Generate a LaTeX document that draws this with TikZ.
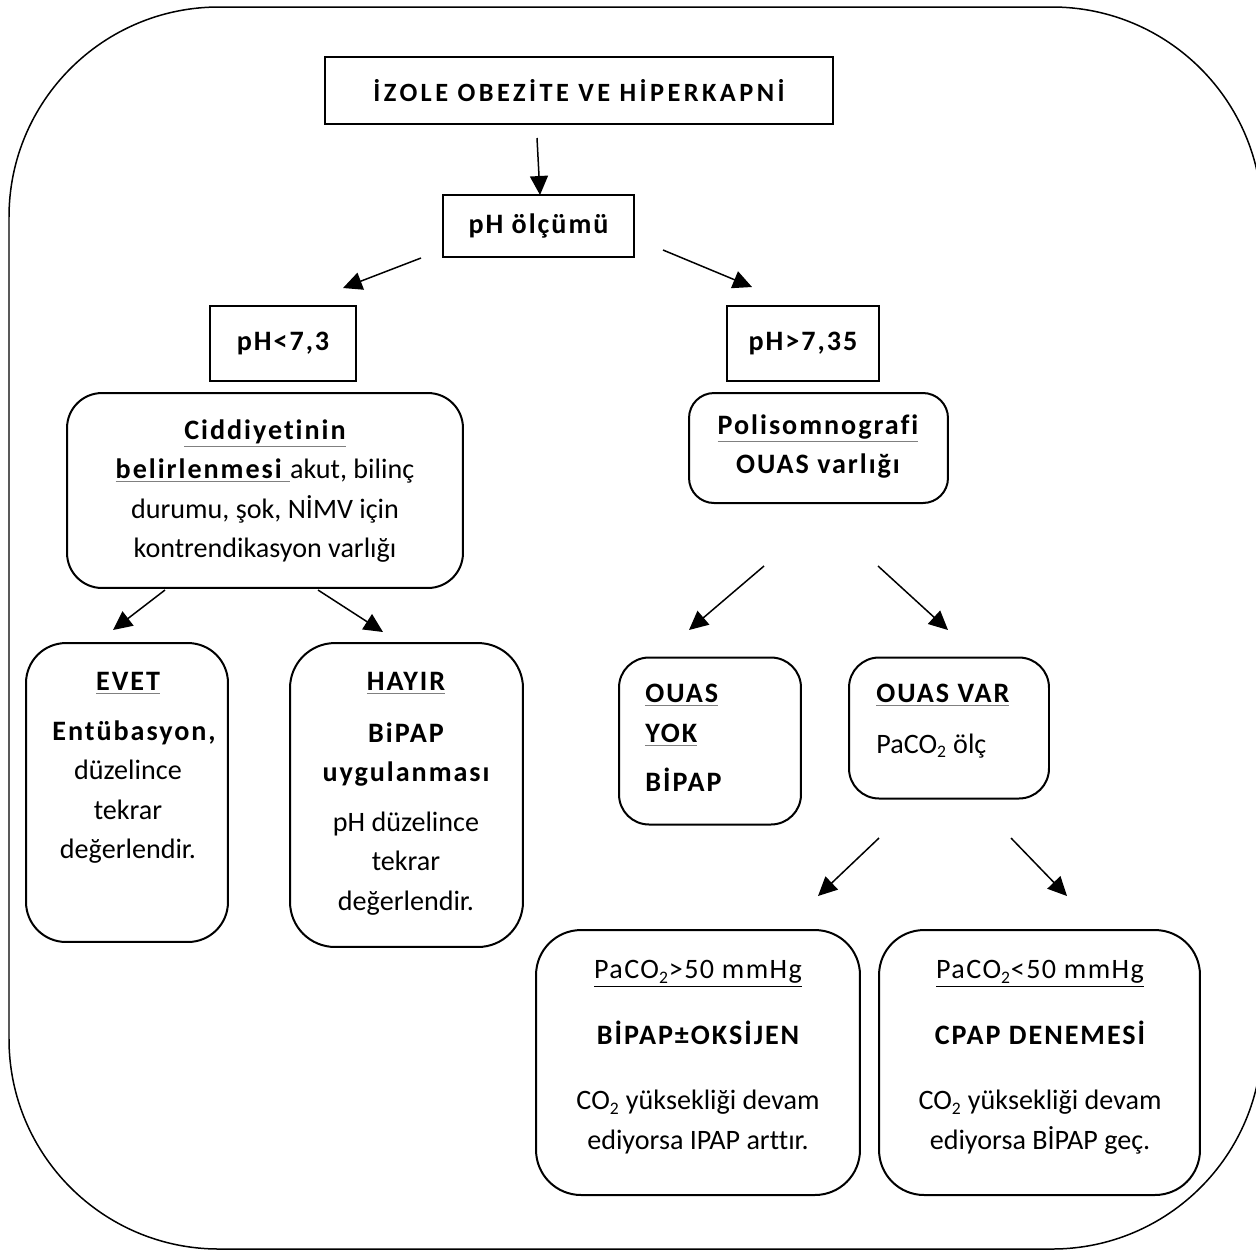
\documentclass[tikz,border=0pt]{standalone}
\usepackage{fontspec}
\setmainfont{Carlito}[Ligatures=NoCommon]
\usetikzlibrary{arrows.meta}

\newcommand\bodyfont{\fontsize{16}{22.5}\selectfont}
\newcommand\hd[1]{{\bfseries\addfontfeatures{LetterSpace=7}#1}}
\newcommand\hdu[1]{{\color{gray}\underline{\color{black}\hd{#1}}}}
\newcommand\trk[1]{{\addfontfeatures{LetterSpace=5}#1}}
\newcommand\trku[1]{\underline{\trk{#1}}}
\newcommand\subtwo{\textsubscript{\fontsize{10}{10}\selectfont 2}}

\begin{document}
\begin{tikzpicture}[x=0.02cm,y=-0.02cm,font=\bodyfont,
	box/.style={draw, line width=0.04cm, inner sep=0pt},
	rbox/.style={box, rounded corners=#1},
	txt/.style={inner sep=0pt, align=center, anchor=north},
	arr/.style={-{Triangle[length=0.38cm,width=0.36cm]}, line width=0.03cm}]
	\useasboundingbox (0,0) rectangle (1256,1252);
	% outer frame
	\begin{scope}
		\clip (0,0) rectangle (1256,1252);
		\draw[line width=0.03cm, rounded corners=4.2cm] (9,7) rectangle (1262,1249);
	\end{scope}
	% top of the tree
	\node[box, minimum width=10.16cm, minimum height=1.34cm] (title) at (579,90.5) {{\fontsize{15}{18}\selectfont\bfseries\addfontfeatures{LetterSpace=13}İZOLE OBEZİTE VE HİPERKAPNİ}};
	\node[box, minimum width=3.82cm, minimum height=1.24cm] (phm) at (538.5,226) {\hd{pH ölçümü}};
	\node[box, minimum width=2.92cm, minimum height=1.5cm] (phlow) at (283,343.5) {\hd{pH<7,3}};
	\node[box, minimum width=3.04cm, minimum height=1.5cm] (phhigh) at (803,343.5) {\hd{pH>7,35}};
	% left branch
	\node[rbox=0.7cm, minimum width=7.92cm, minimum height=3.9cm] (sev) at (265,490.5) {};
	\node[txt] (sevtxt) at (265,419) {\hdu{Ciddiyetinin}\\ \hdu{belirlenmesi }akut, bilinç\\ durumu, şok, NİMV için\\ kontrendikasyon varlığı};
	\node[rbox=0.8cm, minimum width=4.04cm, minimum height=5.98cm] (evet) at (127,792.5) {};
	\node[txt] (evettxt) at (128,672) {\hdu{EVET}\\[0.2cm] \hspace*{0.24cm}\hd{Entübasyon,}\\ düzelince\\ tekrar\\ değerlendir.};
	\node[rbox=0.9cm, minimum width=4.66cm, minimum height=6.08cm] (hayir) at (406.5,795) {};
	\node[txt] (hayirtxt) at (406,672) {\hdu{HAYIR}\\[0.24cm] \hd{BiPAP}\\ \hd{uygulanması}\\[0.2cm] pH düzelince\\ tekrar\\ değerlendir.};
	% right branch
	\node[rbox=0.5cm, minimum width=5.18cm, minimum height=2.2cm] (psg) at (818.5,448) {};
	\node[txt] (psgtxt) at (818,414) {\hdu{Polisomnografi}\\ \hd{OUAS varlığı}};
	\node[rbox=0.6cm, minimum width=3.64cm, minimum height=3.34cm] (yok) at (710,741) {};
	\node[txt, align=left, anchor=north west] (yoktxt) at (645,684) {\hdu{OUAS}\\ \hdu{YOK}\\[0.2cm] \hd{BİPAP}};
	\node[rbox=0.6cm, minimum width=4cm, minimum height=2.82cm] (var) at (949,728) {};
	\node[txt, align=left, anchor=north west] (vartxt) at (876,684) {\hdu{OUAS VAR}\\[0.22cm] PaCO\subtwo{} ölç};
	\node[rbox=0.9cm, minimum width=6.48cm, minimum height=5.3cm] (high) at (698,1062.5) {};
	\node[txt] (hightxt) at (698,960) {\trku{PaCO\subtwo{}>50 mmHg}\\[0.52cm] \hd{BİPAP±OKSİJEN}\\[0.52cm] CO\subtwo{} yüksekliği devam\\ ediyorsa IPAP arttır.};
	\node[rbox=0.9cm, minimum width=6.42cm, minimum height=5.3cm] (low) at (1039.5,1062.5) {};
	\node[txt] (lowtxt) at (1040,960) {\trku{PaCO\subtwo{}<50 mmHg}\\[0.52cm] \hd{CPAP DENEMESİ}\\[0.52cm] CO\subtwo{} yüksekliği devam\\ ediyorsa BİPAP geç.};
	% arrow ends
	\coordinate (a1) at (537,138);  \coordinate (b1) at (540,195);
	\coordinate (a2) at (421,258);  \coordinate (b2) at (343,288);
	\coordinate (a3) at (663,250);  \coordinate (b3) at (752,287);
	\coordinate (a4) at (165,590);  \coordinate (b4) at (113,630);
	\coordinate (a5) at (318,590);  \coordinate (b5) at (383,632);
	\coordinate (a6) at (764,566);  \coordinate (b6) at (689,630);
	\coordinate (a7) at (878,566);  \coordinate (b7) at (948,630);
	\coordinate (a8) at (879,838);  \coordinate (b8) at (818,896);
	\coordinate (a9) at (1011,838); \coordinate (b9) at (1067,896);
	\foreach \i in {1,...,9}
		\draw[arr] (a\i) -- (b\i);
\end{tikzpicture}
\end{document}
